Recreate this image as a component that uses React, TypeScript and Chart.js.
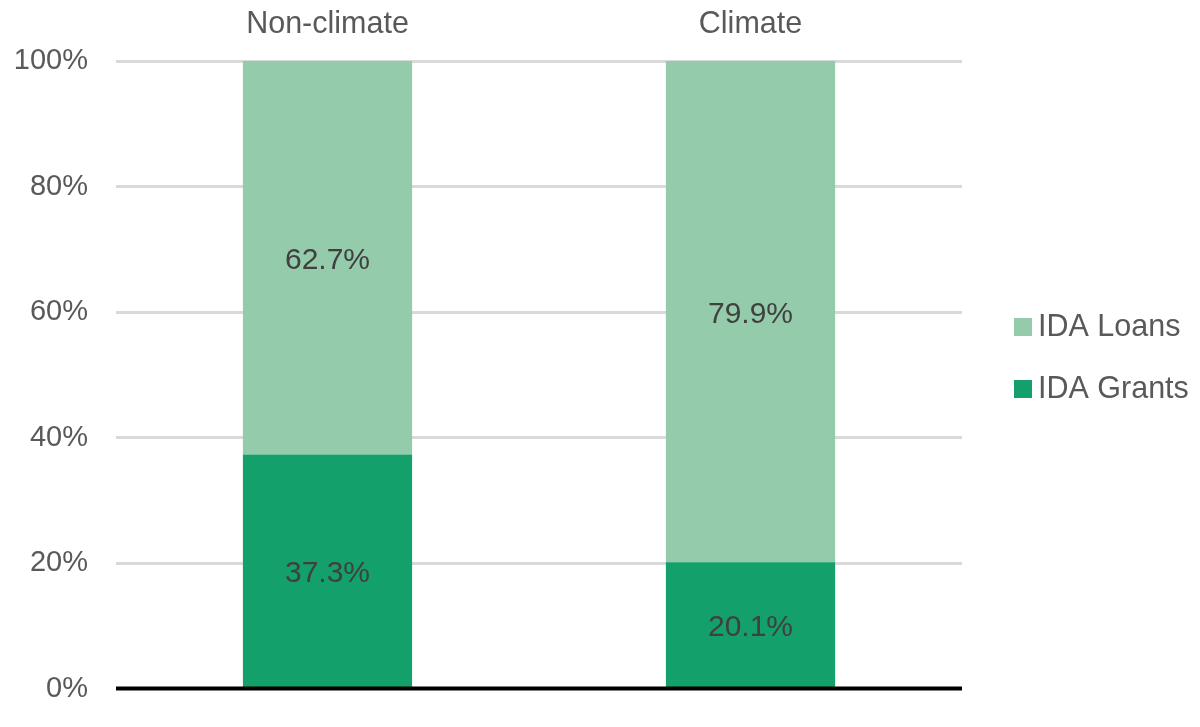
import React, { useEffect, useRef } from "react";
import { Chart, registerables } from "chart.js";

Chart.register(...registerables);

const categories = ["Non-climate", "Climate"];
const grantsValues = [37.3, 20.1];
const loansValues = [62.7, 79.9];
const seriesLabels = ["IDA Grants", "IDA Loans"];
const seriesColors = ["#13A06A", "#94CBAA"];
const yTicks = [0, 20, 40, 60, 80, 100];

const FONT = "'Liberation Sans', Arial, sans-serif";

const zeroLinePlugin = {
  id: "zeroLine",
  afterDatasetsDraw(chart: any) {
    const { ctx, chartArea, scales } = chart;
    const y = scales.y.getPixelForValue(0);
    ctx.save();
    ctx.strokeStyle = "#000000";
    ctx.lineWidth = 4;
    ctx.beginPath();
    ctx.moveTo(chartArea.left, y);
    ctx.lineTo(chartArea.right, y);
    ctx.stroke();
    ctx.restore();
  },
};

const dataLabelPlugin = {
  id: "dataLabels",
  afterDatasetsDraw(chart: any) {
    const { ctx } = chart;
    ctx.save();
    ctx.font = `30px ${FONT}`;
    ctx.fillStyle = "#404040";
    ctx.textAlign = "center";
    ctx.textBaseline = "middle";
    chart.data.datasets.forEach((ds: any, di: number) => {
      const meta = chart.getDatasetMeta(di);
      meta.data.forEach((el: any, i: number) => {
        const v = ds.data[i];
        const cy = (el.y + el.base) / 2 + 3;
        ctx.fillText(v.toFixed(1) + "%", el.x, cy);
      });
    });
    ctx.restore();
  },
};

const legendPlugin = {
  id: "sideLegend",
  afterDraw(chart: any) {
    const { ctx, chartArea } = chart;
    const items = chart.data.datasets
      .map((ds: any) => ({ label: ds.label, color: ds.backgroundColor }))
      .reverse();
    const boxX = chartArea.right + 52;
    const firstY = chartArea.top + 266;
    const gap = 62;
    ctx.save();
    ctx.font = `30.5px ${FONT}`;
    ctx.textBaseline = "middle";
    ctx.textAlign = "left";
    items.forEach((it: any, i: number) => {
      const cy = firstY + i * gap;
      ctx.fillStyle = it.color;
      ctx.fillRect(boxX, cy - 9, 18, 18);
      ctx.fillStyle = "#595959";
      ctx.fillText(it.label, boxX + 24, cy + 1);
    });
    ctx.restore();
  },
};

export default function App() {
  const canvasRef = useRef<HTMLCanvasElement | null>(null);

  useEffect(() => {
    document.body.style.margin = "0";
    const canvas = canvasRef.current;
    if (!canvas) return;
    const chart = new Chart(canvas, {
      type: "bar",
      data: {
        labels: categories,
        datasets: [
          {
            label: seriesLabels[0],
            data: grantsValues,
            backgroundColor: seriesColors[0],
            borderWidth: 0,
            categoryPercentage: 1,
            barPercentage: 0.4,
          },
          {
            label: seriesLabels[1],
            data: loansValues,
            backgroundColor: seriesColors[1],
            borderWidth: 0,
            categoryPercentage: 1,
            barPercentage: 0.4,
          },
        ],
      },
      options: {
        responsive: false,
        animation: false,
        devicePixelRatio: 1,
        layout: { padding: { left: 0, right: 238, top: 0, bottom: 38.5 } },
        plugins: {
          legend: { display: false },
          tooltip: { enabled: false },
          title: { display: false },
        },
        scales: {
          x: {
            position: "top",
            stacked: true,
            grid: { display: false, drawTicks: false },
            border: { display: false },
            ticks: {
              color: "#595959",
              font: { family: FONT, size: 30.5 },
              padding: 18,
            },
            afterFit(scale: any) {
              scale.height = 61;
              scale.paddingLeft = 0;
              scale.paddingRight = 0;
            },
          },
          y: {
            stacked: true,
            min: 0,
            max: 100,
            afterBuildTicks(scale: any) {
              scale.ticks = yTicks.map((v) => ({ value: v }));
            },
            grid: {
              drawTicks: false,
              color: (c: any) => (c.tick && c.tick.value === 0 ? "rgba(0,0,0,0)" : "#D9D9D9"),
              lineWidth: 3,
            },
            border: { display: false },
            ticks: {
              color: "#595959",
              font: { family: FONT, size: 29 },
              padding: 28,
              callback: (v: any) => v + "%",
            },
            afterFit(scale: any) {
              scale.width = 116;
              scale.paddingTop = 0;
              scale.paddingBottom = 0;
            },
          },
        },
      },
      plugins: [zeroLinePlugin, dataLabelPlugin, legendPlugin],
    });
    return () => chart.destroy();
  }, []);

  return (
    <div style={{ position: "absolute", left: 0, top: 0, width: 1200, height: 727, background: "#fff" }}>
      <canvas ref={canvasRef} width={1200} height={727} />
    </div>
  );
}
